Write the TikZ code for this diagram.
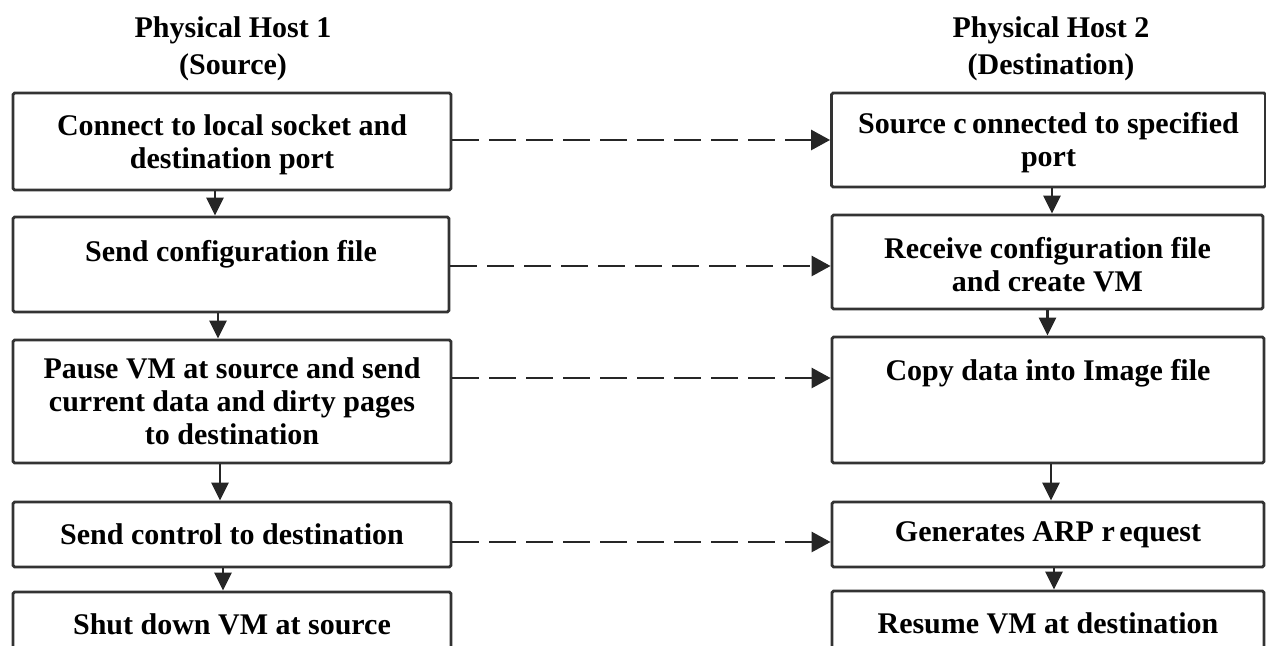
\documentclass[tikz,border=0pt]{standalone}
\usepackage{fontspec}
\setmainfont{Liberation Serif}
\usetikzlibrary{arrows.meta}
\newcommand{\toppad}{\rule{0pt}{13.5pt}}
\begin{document}
\begin{tikzpicture}[x=0.5pt,y=-0.5pt,
  box/.style={draw=black!80, line width=1.4pt, rounded corners=0.8pt,
    align=center, inner sep=0pt, font=\bfseries\fontsize{15}{16.5}\selectfont},
  head/.style={align=center, inner sep=0pt, font=\bfseries\fontsize{15}{18.5}\selectfont},
  flow/.style={draw=black!85, line width=1.4pt, -{Triangle[length=9pt,width=8.5pt]}},
  link/.style={draw=black!85, line width=1.4pt, dash pattern=on 13.5pt off 5pt,
    -{Triangle[length=9.5pt,width=10pt]}}]
\useasboundingbox (0,0) rectangle (1266,646);
\clip (0,0) rectangle (1266,646);

% column headings
\node[head] (h1) at (233,49) {Physical Host 1\\(Source)};
\node[head] (h2) at (1051,49) {Physical Host 2\\(Destination)};

% source host steps
\node[box, minimum width=219pt, minimum height=48.5pt] (L1) at (232,141.5)
  {\toppad Connect to local socket and\\destination port};
\node[box, minimum width=218pt, minimum height=47.5pt] (L2) at (231,264.5)
  {\toppad Send configuration file\\ ~};
\node[box, minimum width=219pt, minimum height=61.5pt] (L3) at (232,401.5)
  {Pause VM at source and send\\current data and dirty pages\\to destination};
\node[box, minimum width=219pt, minimum height=32.5pt] (L4) at (232,534.5)
  {Send control to destination};
\node[box, minimum width=219pt, minimum height=32.5pt] (L5) at (232,624.5)
  {Shut down VM at source};

% destination host steps
\node[box, minimum width=217pt, minimum height=47pt] (R1) at (1048.5,140)
  {\toppad Source c\hspace{0.18em}onnected to specified\\port};
\node[box, minimum width=215.5pt, minimum height=47pt] (R2) at (1047.5,262)
  {\toppad Receive configuration file\\and create VM};
\node[box, minimum width=216pt, minimum height=63pt] (R3) at (1048,400)
  {\toppad Copy data into Image file\\ ~\\ ~};
\node[box, minimum width=216pt, minimum height=32.5pt] (R4) at (1048,534.5)
  {Generates ARP r\hspace{0.15em}equest};
\node[box, minimum width=216pt, minimum height=32.5pt] (R5) at (1048,623.5)
  {Resume VM at destination};

% sequence within each host
\draw[flow] ([xshift=-8.5pt]L1.south) -- ([xshift=-8.5pt]L1.south |- L2.north);
\draw[flow] ([xshift=-6.5pt]L2.south) -- ([xshift=-6.5pt]L2.south |- L3.north);
\draw[flow] ([xshift=-6pt]L3.south) -- ([xshift=-6pt]L3.south |- L4.north);
\draw[flow] ([xshift=-4.5pt]L4.south) -- ([xshift=-4.5pt]L4.south |- L5.north);

\draw[flow] ([xshift=1.75pt]R1.south) -- ([xshift=1.75pt]R1.south |- R2.north);
\draw[flow] (R2.south) -- (R2.south |- R3.north);
\draw[flow] ([xshift=1.5pt]R3.south) -- ([xshift=1.5pt]R3.south |- R4.north);
\draw[flow] ([xshift=3pt]R4.south) -- ([xshift=3pt]R4.south |- R5.north);

% messages between hosts
\draw[link] (L1.east |- R1.west) -- (R1.west);
\draw[link] ([yshift=-0.75pt]L2.east) -- ([yshift=-0.75pt]L2.east -| R2.west);
\draw[link] ([yshift=11.75pt]L3.east) -- ([yshift=11.75pt]L3.east -| R3.west);
\draw[link] ([yshift=-3.75pt]L4.east) -- ([yshift=-3.75pt]L4.east -| R4.west);
\end{tikzpicture}
\end{document}
